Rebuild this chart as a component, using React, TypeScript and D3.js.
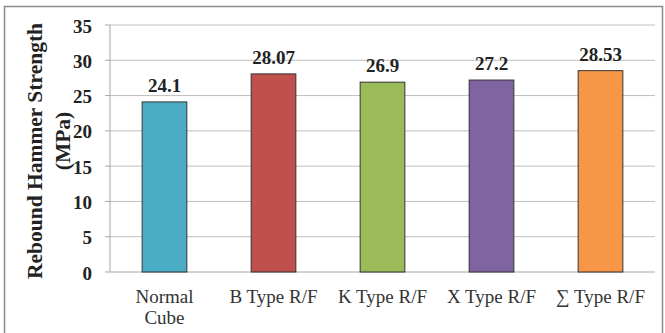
import React from "react";
import * as d3 from "d3";

const categories: string[][] = [["Normal", "Cube"], ["B Type R/F"], ["K Type R/F"], ["X Type R/F"], ["∑ Type R/F"]];
const values: number[] = [24.1, 28.07, 26.9, 27.2, 28.53];
const valueLabels: string[] = ["24.1", "28.07", "26.9", "27.2", "28.53"];
const colors: string[] = ["#4BACC6", "#C0504D", "#9BBB59", "#8064A2", "#F79646"];
const yTicks: number[] = [0, 5, 10, 15, 20, 25, 30, 35];

const W = 665, H = 333;
const M = { left: 110, right: 655, top: 25, bottom: 272 };

export default function App() {
  const x = d3.scaleBand<number>().domain(d3.range(values.length)).range([M.left, M.right]).paddingInner(0.59).paddingOuter(0.295);
  const y = d3.scaleLinear().domain([0, 35]).range([M.bottom, M.top]);
  const font = "'Liberation Serif', 'Times New Roman', serif";
  return (
    <svg width={W} height={H} style={{ position: "absolute", left: 0, top: 0 }}>
      <rect x={0} y={0} width={W} height={H} fill="#fff" />
      <rect x={4.5} y={6.5} width={658} height={330} fill="none" stroke="#8c8c8c" strokeWidth={1.5} />
      {yTicks.map((t) => (
        <g key={t}>
          {t > 0 && <line x1={M.left} x2={M.right} y1={y(t)} y2={y(t)} stroke="#bfbfbf" strokeWidth={1} />}
          <line x1={M.left - 5} x2={M.left} y1={y(t)} y2={y(t)} stroke="#a6a6a6" strokeWidth={1} />
          <text x={92} y={y(t)} dy="0.4em" textAnchor="end" fontFamily={font} fontWeight="bold" fontSize={19} fill="#222">{t}</text>
        </g>
      ))}
      <line x1={M.left} x2={M.left} y1={M.top} y2={M.bottom} stroke="#a6a6a6" />
      <line x1={M.left} x2={M.right} y1={M.bottom} y2={M.bottom} stroke="#a6a6a6" />
      {values.map((v, i) => (
        <g key={i}>
          <rect x={x(i)!} y={y(v)} width={x.bandwidth()} height={y(0) - y(v)} fill={colors[i]} stroke="#333" strokeWidth={1} />
          <text x={x(i)! + x.bandwidth() / 2} y={y(v) - 10} textAnchor="middle" fontFamily={font} fontWeight="bold" fontSize={19} fill="#222">{valueLabels[i]}</text>
          {categories[i].map((line, j) => (
            <text key={j} x={x(i)! + x.bandwidth() / 2} y={303 + j * 21} textAnchor="middle" fontFamily={font} fontSize={19} fill="#333">{line}</text>
          ))}
        </g>
      ))}
      <g transform="translate(42,151) rotate(-90)">
        <text textAnchor="middle" fontFamily={font} fontWeight="bold" fontSize={21.5} fill="#222">Rebound Hammer Strength</text>
      </g>
      <g transform="translate(70,141) rotate(-90)">
        <text textAnchor="middle" fontFamily={font} fontWeight="bold" fontSize={21.5} fill="#222">(MPa)</text>
      </g>
    </svg>
  );
}
